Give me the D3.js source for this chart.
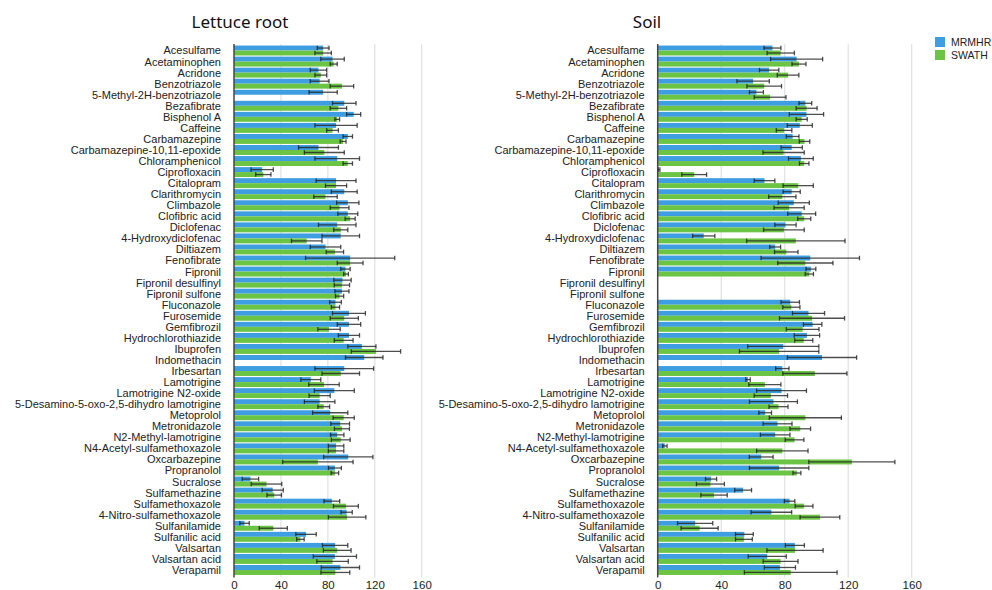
<!DOCTYPE html>
<html>
<head>
<meta charset="utf-8">
<script src="https://cdn.jsdelivr.net/npm/d3@7"></script>
<style>
  body { margin: 0; background: #fff; }
  svg { display: block; }
  .cat text, .tick text { font-family: "Liberation Sans", Arial, sans-serif; fill: #222; }
  .title { font-family: "Noto Sans", "Open Sans", sans-serif; font-size: 17px; fill: #111; }
  .legend text { font-family: "Liberation Sans", Arial, sans-serif; font-size: 10.5px; fill: #222; }
</style>
</head>
<body>
<svg id="chart" width="992" height="590"></svg>
<script>
// compounds, top to bottom
var compounds = ["Acesulfame", "Acetaminophen", "Acridone", "Benzotriazole", "5-Methyl-2H-benzotriazole",
  "Bezafibrate", "Bisphenol A", "Caffeine", "Carbamazepine", "Carbamazepine-10,11-epoxide",
  "Chloramphenicol", "Ciprofloxacin", "Citalopram", "Clarithromycin", "Climbazole",
  "Clofibric acid", "Diclofenac", "4-Hydroxydiclofenac", "Diltiazem", "Fenofibrate",
  "Fipronil", "Fipronil desulfinyl", "Fipronil sulfone", "Fluconazole", "Furosemide",
  "Gemfibrozil", "Hydrochlorothiazide", "Ibuprofen", "Indomethacin", "Irbesartan",
  "Lamotrigine", "Lamotrigine N2-oxide", "5-Desamino-5-oxo-2,5-dihydro lamotrigine", "Metoprolol", "Metronidazole",
  "N2-Methyl-lamotrigine", "N4-Acetyl-sulfamethoxazole", "Oxcarbazepine", "Propranolol", "Sucralose",
  "Sulfamethazine", "Sulfamethoxazole", "4-Nitro-sulfamethoxazole", "Sulfanilamide", "Sulfanilic acid",
  "Valsartan", "Valsartan acid", "Verapamil"];

var seriesNames = ["MRMHR", "SWATH"];
var xTicks = [0, 40, 80, 120, 160];

// Lettuce root
var lettuceMRMHR = [76, 84, 72, 73, 76, 94, 102, 87, 97, 72, 88, 24, 87, 94, 97, 97, 88, 91, 78, 99,
  95, 92.5, 92, 86.5, 98, 98, 98, 109, 111, 94, 65.5, 85.5, 73, 82, 90.5, 88, 87, 97.4, 86, 14,
  33, 83.4, 96, 9, 61.4, 86.2, 86, 90.7];
var lettuceMRMHRErr = [5, 10, 7, 8, 12, 10, 6, 18, 4, 17, 19, 9.5, 17, 11, 9.5, 8.5, 16, 16, 13, 38,
  4, 7.4, 6, 5, 14, 10, 9, 12, 16, 25, 8.5, 17, 13, 15, 8, 5.7, 6.6, 21, 5.5, 7,
  9, 6.7, 4.8, 4, 8.7, 10.8, 18.4, 16.3];
var lettuceSWATH = [76, 85, 74, 92, null, 89, 88, 84, 93, 77, 97, 25, 87, 78, 90, 99, 91, 62, 86, 99,
  95.5, 92, 90, 86.5, 94, 81, 93.5, 121, null, 91, 76.7, 73, 76.5, 93.5, 92, 91, 87, 71.5, 86, 27.7,
  34.3, 95.4, 96.4, 33.5, 56.6, 88, 84, 86.4];
var lettuceSWATHErr = [7, 3, 5, 10, 0, 7, 2, 5, 2.5, 17, 4, 6.5, 9, 10, 8, 4.3, 6, 13, 7.4, 11,
  2, 6.5, 3.5, 3.5, 12, 9.5, 8, 21, 0, 16, 13, 9, 5, 9, 6.4, 8, 6.6, 30, 3.2, 13,
  6.2, 10.6, 16, 12, 3.2, 11.8, 13.4, 12.3];

// Soil
var soilMRMHR = [72.3, 87.5, 70.2, 60.1, 62.2, 93, 93.7, 89.5, 85, 84.4, 90.2, 0.8, 67.3, 84.4, 85.7, 90.7, 80.5, 29, 74, 96.1,
  96.5, null, null, 83.5, 95, 97.6, 94, 79.1, 103.5, 78.5, 56.9, 78, 72.9, 67.7, 75.5, 74, 4.5, 65.2, 76.5, 33.6,
  53.8, 83.1, 71.6, 23.6, 54.6, 86.4, 69, 77];
var soilMRMHRErr = [5.3, 16.4, 6.1, 10.2, 4.4, 4, 10.8, 7.9, 4, 6.7, 7.8, 0.6, 6.5, 5.4, 9.8, 8.8, 6.7, 7, 3.4, 31,
  3.1, 0, 0, 5.8, 10.1, 5.8, 8, 22.4, 21.8, 4.2, 1.4, 15.7, 15.1, 4, 9.1, 9.3, 1.4, 7.5, 18.7, 3.5,
  5.3, 3.3, 12.8, 11.1, 5.6, 6, 12, 9.8];
var soilSWATH = [77.5, 89, 82.1, 67.1, 70.8, 93.8, 90.7, 79.6, 92.5, 79.3, 92.3, 23, 88.5, 78.5, 82.8, 92.3, 79.5, 87, 81, 93,
  95.5, null, null, 84.2, 97.2, 91.3, 92, 76.5, null, 99, 67.5, 71.3, 76.1, 93, 89.8, 86.2, 78.5, 122.3, 87.7, 33.2,
  35.5, 92.2, 102.2, 26.4, 54.3, 86.5, 77.4, 83.8];
var soilSWATHErr = [8.6, 4.4, 6.8, 10.9, 10, 6.6, 3.5, 4.9, 3.3, 13, 3, 7.8, 9.5, 8.6, 9.5, 4.1, 12.8, 31, 7.4, 17.4,
  2.6, 0, 0, 5.4, 20.5, 10.3, 5.7, 25, 0, 20.2, 10.1, 10.5, 6, 22.7, 6.5, 5.9, 16.2, 27.1, 2.5, 8.8,
  8.3, 5.6, 12.5, 11.7, 5.3, 17.7, 11, 29.2];

var colors = ["#3f9de2", "#6cc444"];
var width = 992, height = 590;
var plotTop = 45, plotBottom = 575.5;

var panels = [
  {title: "Lettuce root", titleX: 240, x0: 234, x1: 421.7,
   values: [lettuceMRMHR, lettuceSWATH], errs: [lettuceMRMHRErr, lettuceSWATHErr]},
  {title: "Soil", titleX: 647, x0: 657.7, x1: 911.7,
   values: [soilMRMHR, soilSWATH], errs: [soilMRMHRErr, soilSWATHErr]}
];

var svg = d3.select("#chart");
svg.append("rect").attr("width", width).attr("height", height).attr("fill", "#fff");

var y = d3.scaleBand().domain(compounds).range([plotTop, plotBottom]).padding(0);
var bh = y.bandwidth();

panels.forEach(function(p) {
  var x = d3.scaleLinear().domain([0, 160]).range([p.x0, p.x1]);
  var g = svg.append("g");

  // grid lines
  g.selectAll("line.grid").data(xTicks.slice(1)).enter().append("line")
    .attr("class", "grid")
    .attr("x1", function(d) { return x(d); }).attr("x2", function(d) { return x(d); })
    .attr("y1", plotTop - 1).attr("y2", plotBottom + 2)
    .attr("stroke", "#e0e0e0").attr("stroke-width", 1.2);

  // bars
  seriesNames.forEach(function(s, si) {
    var rows = compounds.map(function(c, i) {
      return {c: c, v: p.values[si][i], e: p.errs[si][i]};
    }).filter(function(d) { return d.v != null; });
    var yOff = function(d) { return y(d.c) + (si === 0 ? bh * 0.05 : bh * 0.5); };
    var h = bh * 0.45;

    g.selectAll("rect.s" + si).data(rows).enter().append("rect")
      .attr("class", "s" + si)
      .attr("x", x(0))
      .attr("y", yOff)
      .attr("width", function(d) { return x(d.v) - x(0); })
      .attr("height", h)
      .attr("fill", colors[si]);

    var eb = g.selectAll("g.eb" + si).data(rows).enter().append("g")
      .attr("class", "eb" + si)
      .attr("stroke", "#222").attr("stroke-opacity", 0.8).attr("stroke-width", 1.3);
    eb.append("line")
      .attr("x1", function(d) { return x(Math.max(0, d.v - d.e)); })
      .attr("x2", function(d) { return x(d.v + d.e); })
      .attr("y1", function(d) { return yOff(d) + h / 2; })
      .attr("y2", function(d) { return yOff(d) + h / 2; });
    [-1, 1].forEach(function(sign) {
      eb.append("line")
        .attr("x1", function(d) { return x(Math.max(0, d.v + sign * d.e)); })
        .attr("x2", function(d) { return x(Math.max(0, d.v + sign * d.e)); })
        .attr("y1", function(d) { return yOff(d) + 0.2; })
        .attr("y2", function(d) { return yOff(d) + h - 0.2; });
    });
  });

  // zero axis line
  g.append("line")
    .attr("x1", x(0)).attr("x2", x(0))
    .attr("y1", plotTop - 1).attr("y2", plotBottom + 2)
    .attr("stroke", "#444").attr("stroke-width", 1.5);

  // category labels
  var cat = g.append("g").attr("class", "cat");
  cat.selectAll("text").data(compounds).enter().append("text")
    .attr("x", x(0) - 13)
    .attr("y", function(d) { return y(d) + bh / 2; })
    .attr("dy", "0.36em")
    .attr("text-anchor", "end")
    .attr("font-size", 11)
    .text(function(d) { return d; });

  // x axis labels
  var ax = d3.axisBottom(x).tickValues(xTicks).tickSize(0).tickPadding(3);
  var axg = g.append("g").attr("transform", "translate(0," + (plotBottom + 2) + ")").call(ax);
  axg.select(".domain").remove();
  axg.selectAll(".tick text").attr("font-size", 11.5).attr("fill", "#333");

  // title
  svg.append("text").attr("class", "title")
    .attr("x", p.titleX).attr("y", 28)
    .attr("text-anchor", "middle")
    .text(p.title);
});

// legend
var lg = svg.append("g").attr("class", "legend").attr("transform", "translate(935,37)");
seriesNames.forEach(function(s, i) {
  lg.append("rect").attr("x", 0).attr("y", i * 13).attr("width", 10).attr("height", 10).attr("fill", colors[i]);
  lg.append("text").attr("x", 16).attr("y", i * 13 + 9).text(s);
});
</script>
</body>
</html>
